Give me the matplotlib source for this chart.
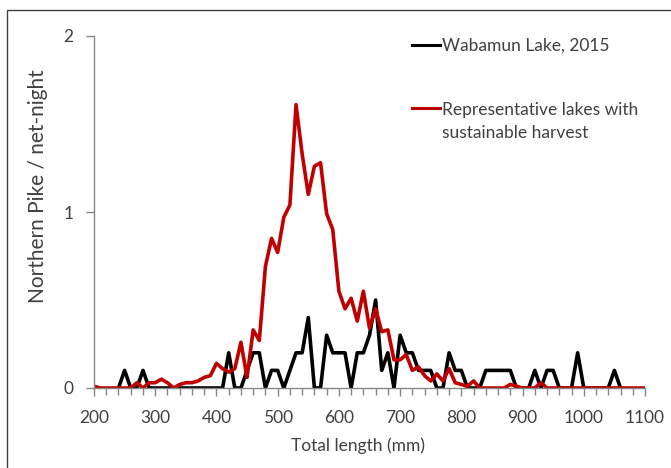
import numpy as np
import matplotlib.pyplot as plt
from matplotlib.lines import Line2D
from matplotlib.patches import Rectangle
from matplotlib.ticker import MultipleLocator

plt.rcParams['font.family'] = ['Lato', 'DejaVu Sans']

# length bins (mm)
red_lengths = np.arange(200, 1101, 10)
black_lengths = np.arange(240, 1061, 10)

# Representative lakes with sustainable harvest (fish / net-night)
red_values = [
    0.01, 0, 0, 0, 0, 0, 0, 0.03, 0, 0.03,            # 200-290
    0.03, 0.05, 0.03, 0, 0.02, 0.03, 0.03, 0.04, 0.06, 0.07,   # 300-390
    0.14, 0.11, 0.09, 0.11, 0.26, 0.06, 0.33, 0.27, 0.69, 0.85,  # 400-490
    0.77, 0.97, 1.04, 1.61, 1.33, 1.10, 1.26, 1.28, 0.99, 0.90,  # 500-590
    0.55, 0.45, 0.51, 0.38, 0.55, 0.34, 0.45, 0.32, 0.33, 0.16,  # 600-690
    0.16, 0.19, 0.10, 0.12, 0.07, 0.04, 0.08, 0.04, 0.11, 0.03,  # 700-790
    0.02, 0.01, 0.04, 0, 0, 0, 0, 0, 0.02, 0.01,      # 800-890
    0, 0, 0, 0.03, 0, 0, 0, 0, 0, 0,                  # 900-990
    0, 0, 0, 0, 0, 0, 0, 0, 0, 0,                     # 1000-1090
    0,                                                # 1100
]

# Wabamun Lake, 2015
black_values = [
    0, 0.1, 0, 0, 0.1, 0,                             # 240-290
    0, 0, 0, 0, 0, 0, 0, 0, 0, 0,                     # 300-390
    0, 0, 0.2, 0, 0, 0.1, 0.2, 0.2, 0, 0.1,           # 400-490
    0.1, 0, 0.1, 0.2, 0.2, 0.4, 0, 0, 0.3, 0.2,       # 500-590
    0.2, 0.2, 0, 0.2, 0.2, 0.3, 0.5, 0.1, 0.2, 0,     # 600-690
    0.3, 0.2, 0.2, 0.1, 0.1, 0.1, 0, 0, 0.2, 0.1,     # 700-790
    0.1, 0, 0, 0, 0.1, 0.1, 0.1, 0.1, 0.1, 0,         # 800-890
    0, 0, 0.1, 0, 0.1, 0.1, 0, 0, 0, 0.2,             # 900-990
    0, 0, 0, 0, 0, 0.1, 0,                            # 1000-1060
]

W, H = 671, 468
fig = plt.figure(figsize=(W / 100, H / 100), dpi=100)
ax = fig.add_axes([94 / W, 1 - 388 / H, (645 - 94) / W, (388 - 36) / H])

ax.plot(black_lengths, black_values, color='black', lw=2.6, solid_joinstyle='round')
ax.plot(red_lengths, red_values, color='#C00000', lw=2.6, solid_joinstyle='round')

ax.set_xlim(200, 1100)
ax.set_ylim(0, 2)
ax.xaxis.set_major_locator(MultipleLocator(100))
ax.xaxis.set_minor_locator(MultipleLocator(20))
ax.yaxis.set_major_locator(MultipleLocator(1))

for s in ['top', 'right']:
    ax.spines[s].set_visible(False)
for s in ['left', 'bottom']:
    ax.spines[s].set_color('#868686')
    ax.spines[s].set_linewidth(1.0)

txt = '#404040'
ax.tick_params(axis='x', which='major', length=6, width=1, color='#868686',
               pad=10, labelsize=12.5, labelcolor=txt)
ax.tick_params(axis='x', which='minor', length=5, width=1, color='#868686')
ax.tick_params(axis='y', which='major', length=6, width=1, color='#868686',
               pad=9, labelsize=12.5, labelcolor=txt)

ax.set_xlabel('Total length (mm)', fontsize=12.5, color=txt)
ax.xaxis.set_label_coords((358 - 94) / 551, -(446 - 388) / 352)
ax.xaxis.label.set_va('center')
ax.set_ylabel('Northern Pike / net-night', fontsize=15, color=txt)
ax.yaxis.set_label_coords((38 - 94) / 551, (388 - 186) / 352)
ax.yaxis.label.set_va('center')

# legend drawn by hand, as in the original
fig.add_artist(Line2D([412 / W, 440 / W], [1 - 45 / H] * 2, color='black', lw=2.2))
fig.text(442 / W, 1 - 51 / H, 'Wabamun Lake, 2015', fontsize=12.5, color=txt, va='baseline')
fig.add_artist(Line2D([412 / W, 440 / W], [1 - 108 / H] * 2, color='#C00000', lw=2.2))
fig.text(442 / W, 1 - 115 / H, 'Representative lakes with', fontsize=12.5, color=txt, va='baseline')
fig.text(442 / W, 1 - 138 / H, 'sustainable harvest', fontsize=12.5, color=txt, va='baseline')

# chart border
fig.add_artist(Rectangle((7 / W, -0.1), 1.2, 1 - 10 / H + 0.1, transform=fig.transFigure,
                         fill=False, edgecolor='#404040', lw=1))

fig.savefig('out.png', dpi=100)
